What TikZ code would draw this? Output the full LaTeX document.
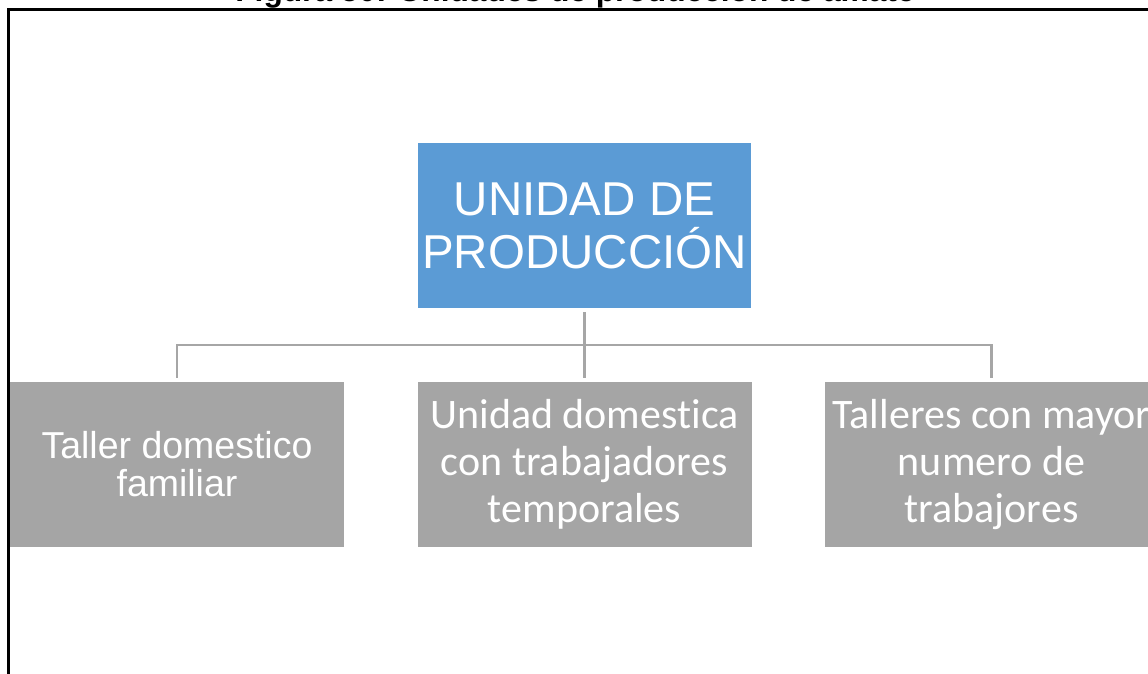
\documentclass[tikz,border=0pt]{standalone}
\usepackage{fontspec}
\setmainfont{Liberation Sans}
\newfontfamily\calibrifont[Ligatures=NoCommon]{Carlito}
\usetikzlibrary{positioning}
\definecolor{topblue}{HTML}{5B9BD5}
\definecolor{unitgray}{HTML}{A5A5A5}
\definecolor{linkgray}{HTML}{A6A6A6}
\tikzset{
  unitbox/.style={fill=unitgray, text=white, minimum width=334pt, minimum height=165pt,
                  inner sep=0pt, align=center},
  headbox/.style={unitbox, fill=topblue, minimum width=333pt,
                  font=\fontsize{47.5}{53}\selectfont},
  link/.style={draw=linkgray, line width=2.5pt}
}
\begin{document}
\begin{tikzpicture}[x=1pt, y=-1pt]
  \useasboundingbox (0,0) rectangle (1148,674);
  \clip (0,0) rectangle (1148,674);
  % caption, cut off by the page edge
  \node[anchor=base, font=\bfseries\fontsize{31.7}{36}\selectfont] (caption) at (575,2) {Figura 50: Unidades de producción de amate};
  \draw[line width=2.5pt] (8.5,690) -- (8.5,9.5) -- (1160,9.5);
  \node[headbox] (head) at (584.5,225.5) {UNIDAD DE\\PRODUCCIÓN};
  \node[unitbox, font=\fontsize{37.5}{38}\selectfont] (fam) at (177,464.5) {Taller domestico\\familiar};
  \node[unitbox, font=\calibrifont\fontsize{42}{47}\selectfont] (temp) at (584.5,464.5) {Unidad domestica\\con trabajadores\\temporales};
  \node[unitbox, font=\calibrifont\fontsize{42}{47}\selectfont] (big) at (991.5,464.5) {Talleres con mayor\\numero de\\trabajores};
  \coordinate (bus) at (584.5,345);
  \draw[link] ([yshift=-4pt]head.south) -- ([yshift=4pt]temp.north);
  \draw[link] ([yshift=4pt]fam.north) |- (bus) -| ([yshift=4pt]big.north);
\end{tikzpicture}
\end{document}
